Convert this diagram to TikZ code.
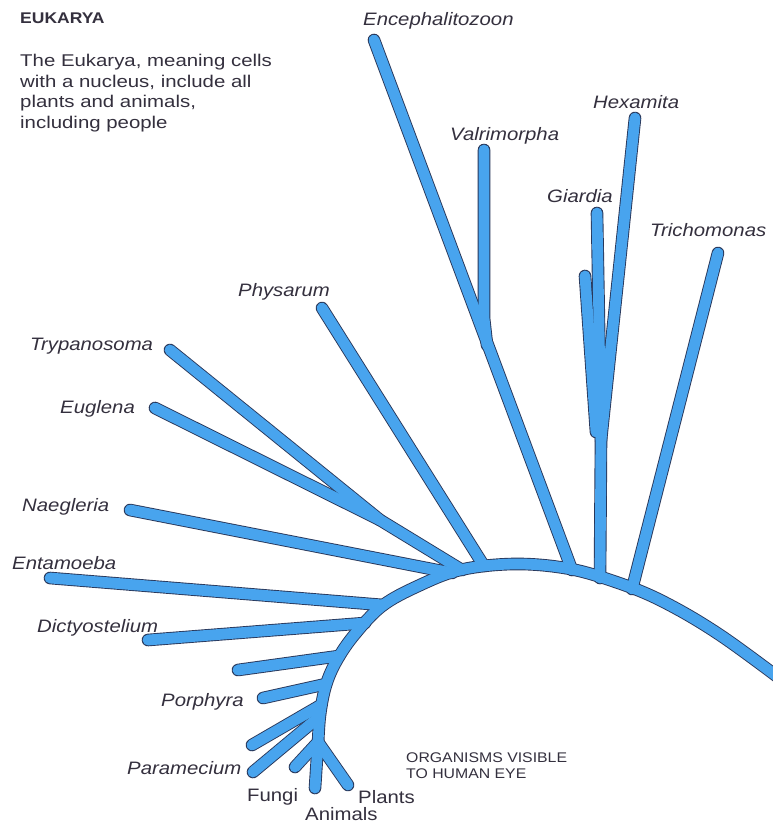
\documentclass[tikz,border=0pt]{standalone}
\usepackage{fontspec}
\setmainfont{Liberation Sans}
\newfontfamily\labelfont[FakeStretch=1.13]{Liberation Sans}
\newfontfamily\bodyfont[FakeStretch=1.2]{Liberation Sans}
\definecolor{branchblue}{RGB}{72,164,238}
\definecolor{branchedge}{RGB}{40,55,90}
\definecolor{inkgray}{RGB}{52,48,62}
\begin{document}
\begin{tikzpicture}[x=1pt,y=-1pt,
  edgeout/.style={draw=branchedge, line width=12.6pt, line cap=round, line join=round},
  edgein/.style={draw=branchblue, line width=10.8pt, line cap=round, line join=round},
  taxon/.style={anchor=base west, inner sep=0pt, text=inkgray, font=\labelfont\itshape\fontsize{18}{20}\selectfont},
  group/.style={anchor=base west, inner sep=0pt, text=inkgray, font=\labelfont\fontsize{18}{20}\selectfont},
]
\useasboundingbox (0,0) rectangle (773,825);
\fill[white] (0,0) rectangle (773,825);
\begin{scope}
\clip (0,0) rectangle (773,825);
% tips
\coordinate (enc) at (374,40);
\coordinate (val) at (484,150);
\coordinate (hex) at (635,118);
\coordinate (gia) at (597,213);
\coordinate (gia2) at (585,276);
\coordinate (tri) at (718,253);
\coordinate (phy) at (322,308);
\coordinate (try) at (170,350);
\coordinate (eug) at (155,408);
\coordinate (nae) at (130,510);
\coordinate (ent) at (50,578);
\coordinate (dic) at (148,640);
\coordinate (unA) at (238,670);
\coordinate (por) at (263,698);
\coordinate (unB) at (252,745);
\coordinate (par) at (253,772);
\coordinate (fun) at (295,767);
\coordinate (ani) at (315,788);
\coordinate (pla) at (348,785);
% inner junctions
\coordinate (valbend) at (484,318);
\coordinate (jval) at (487,345);
\coordinate (jte) at (380,520);
\coordinate (jgh) at (601,440);
\coordinate (jg2) at (596,432);
% backbone points
\coordinate (b1) at (318,745);
\coordinate (b2) at (320,715);
\coordinate (b3) at (326,685);
\coordinate (b4) at (337,660);
\coordinate (b5) at (355,634);
\coordinate (b6) at (382,606);
\coordinate (b7) at (418,586);
\coordinate (b8) at (460,570);
\coordinate (b9) at (513,564);
\coordinate (b10) at (565,568);
\coordinate (b11) at (610,580);
\coordinate (b12) at (660,600);
\coordinate (b13) at (720,635);
\coordinate (b14) at (795,690);
% junctions on backbone
\coordinate (bFA) at (318,742);
\coordinate (bPar) at (319,717);
\coordinate (bUnB) at (321,705);
\coordinate (bPor) at (326,684);
\coordinate (bUnA) at (339,656);
\coordinate (bDic) at (365,623);
\coordinate (bEnt) at (383,605);
\coordinate (bNae) at (452,573);
\coordinate (bTE) at (462,570);
\coordinate (bPhy) at (484,566);
\coordinate (bEnc) at (572,570);
\coordinate (bGH) at (600,578);
\coordinate (bTri) at (632,589);
\foreach \s in {edgeout,edgein}{
  \draw[\s] plot[smooth,tension=0.6] coordinates {(b1) (b2) (b3) (b4) (b5) (b6) (b7) (b8) (b9) (b10) (b11) (b12) (b13) (b14)};
  \draw[\s] (enc) -- (bEnc);
  \draw[\s] (val) -- (valbend) -- (jval);
  \draw[\s] (gia) -- (jgh) -- (bGH);
  \draw[\s] (gia2) -- (jg2);
  \draw[\s] (hex) -- (jgh);
  \draw[\s] (tri) -- (bTri);
  \draw[\s] (phy) -- (bPhy);
  \draw[\s] (try) -- (jte) -- (bTE);
  \draw[\s] (eug) -- (jte);
  \draw[\s] (nae) -- (bNae);
  \draw[\s] (ent) -- (bEnt);
  \draw[\s] (dic) -- (bDic);
  \draw[\s] (unA) -- (bUnA);
  \draw[\s] (por) -- (bPor);
  \draw[\s] (unB) -- (bUnB);
  \draw[\s] (par) -- (bPar);
  \draw[\s] (fun) -- (bFA);
  \draw[\s] (ani) -- (bFA);
  \draw[\s] (pla) -- (bFA);
}
\end{scope}
% labels
\node[taxon] (tEnc) at (363,25) {Encephalitozoon};
\node[taxon] (tVal) at (450,140) {Valrimorpha};
\node[taxon] (tHex) at (593,108) {Hexamita};
\node[taxon] (tGia) at (547,202) {Giardia};
\node[taxon] (tTri) at (650,236) {Trichomonas};
\node[taxon] (tPhy) at (238,296) {Physarum};
\node[taxon] (tTry) at (30,350) {Trypanosoma};
\node[taxon] (tEug) at (60,413) {Euglena};
\node[taxon] (tNae) at (22,511) {Naegleria};
\node[taxon] (tEnt) at (12,569) {Entamoeba};
\node[taxon] (tDic) at (37,632) {Dictyostelium};
\node[taxon] (tPor) at (161,706) {Porphyra};
\node[taxon] (tPar) at (127,774) {Paramecium};
\node[group] (tFun) at (247,801) {Fungi};
\node[group] (tAni) at (305,820) {Animals};
\node[group] (tPla) at (358,803) {Plants};
\node[anchor=base west, inner sep=0pt, text=inkgray, font=\labelfont\bfseries\fontsize{15.5}{17}\selectfont] (title) at (20,23) {EUKARYA};
\node[anchor=north west, inner sep=0pt, align=left, text=inkgray, font=\bodyfont\fontsize{17}{20.7}\selectfont] (body) at (20,54) {The Eukarya, meaning cells\\with a nucleus, include all\\plants and animals,\\including people};
\node[anchor=north west, inner sep=0pt, align=left, text=inkgray, font=\labelfont\fontsize{14}{16.3}\selectfont] (visible) at (406,752.5) {ORGANISMS VISIBLE\\TO HUMAN EYE};
\end{tikzpicture}
\end{document}
